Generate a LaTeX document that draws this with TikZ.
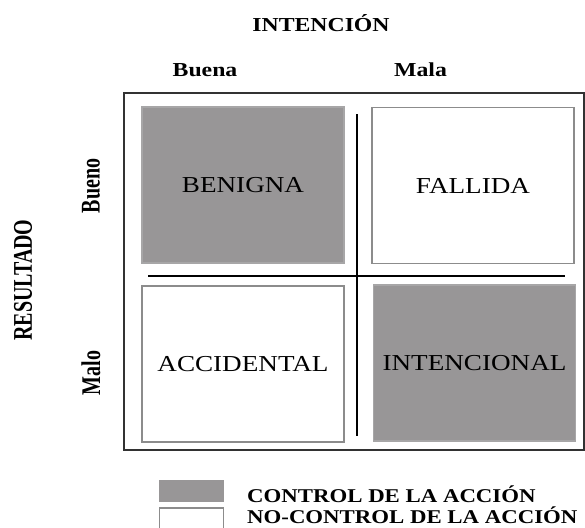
\documentclass[tikz,border=0pt]{standalone}
\usepackage{fontspec}
\setmainfont{Liberation Serif}
\usepackage{graphicx}
\definecolor{boxgray}{RGB}{152,150,151}
\definecolor{edgegray}{RGB}{140,140,140}
\definecolor{framegray}{RGB}{50,50,50}
\newcommand{\boxlab}[1]{\scalebox{1.19}[1]{\fontsize{22.8}{24}\selectfont #1}}
\newcommand{\headlab}[1]{\scalebox{1.2}[1]{\bfseries\fontsize{19.8}{20}\selectfont #1}}
\newcommand{\leglab}[1]{\scalebox{1.17}[1]{\bfseries\fontsize{19.5}{20}\selectfont #1}}
\newcommand{\rotlab}[1]{\scalebox{1}[1.35]{\bfseries\fontsize{20}{20}\selectfont #1}}
\begin{document}
\begin{tikzpicture}[x=1pt,y=-1pt,
  cell/.style={rectangle, inner sep=0pt, line width=1.4pt, text=black},
  graycell/.style={cell, fill=boxgray, draw=boxgray!85!white, minimum width=202pt, minimum height=156pt},
  whitecell/.style={cell, fill=white, draw=edgegray, minimum width=202pt, minimum height=156pt},
  divider/.style={line width=1.6pt, black},
  headtext/.style={inner sep=0pt, anchor=base},
  rottext/.style={inner sep=0pt, rotate=90}
]
\useasboundingbox (0,0) rectangle (585,527);
\fill[white] (0,0) rectangle (585,527);
% outer frame
\node[draw=framegray, line width=1.8pt, minimum width=460pt, minimum height=357pt, inner sep=0pt] (frame) at (354,271.5) {};
% cells
\node[graycell]  (benigna)     at (243,185)   {\boxlab{BENIGNA}};
\node[whitecell] (fallida)     at (473,185.5) {\boxlab{FALLIDA}};
\node[whitecell] (accidental)  at (243,364)   {\boxlab{ACCIDENTAL}};
\node[graycell]  (intencional) at (474.5,363) {\boxlab{INTENCIONAL}};
% dividers
\coordinate (vtop) at (357,114);
\coordinate (vbot) at (357,436);
\coordinate (hleft) at (148,276);
\coordinate (hright) at (565,276);
\draw[divider] (vtop) -- (vbot);
\draw[divider] (hleft) -- (hright);
% headings
\node[headtext] (intencion) at (321,32) {\headlab{INTENCIÓN}};
\node[headtext] (buena) at (205,76) {\headlab{Buena}};
\node[headtext] (mala) at (420.5,76) {\headlab{Mala}};
\node[rottext] (resultado) at (23,280) {\rotlab{RESULTADO}};
\node[rottext] (bueno) at (91,186) {\rotlab{Bueno}};
\node[rottext] (malo) at (91,373) {\rotlab{Malo}};
% legend
\node[rectangle, fill=boxgray, inner sep=0pt, minimum width=65pt, minimum height=22pt] (leggray) at (191.5,491) {};
\node[rectangle, fill=white, draw=edgegray, line width=1.4pt, inner sep=0pt, minimum width=64pt, minimum height=24pt] (legwhite) at (191.5,520) {};
\node[inner sep=0pt, anchor=base west] (legtext1) at (247,502) {\leglab{CONTROL DE LA ACCIÓN}};
\node[inner sep=0pt, anchor=base west] (legtext2) at (247,523.5) {\leglab{NO-CONTROL DE LA ACCIÓN}};
\end{tikzpicture}
\end{document}
